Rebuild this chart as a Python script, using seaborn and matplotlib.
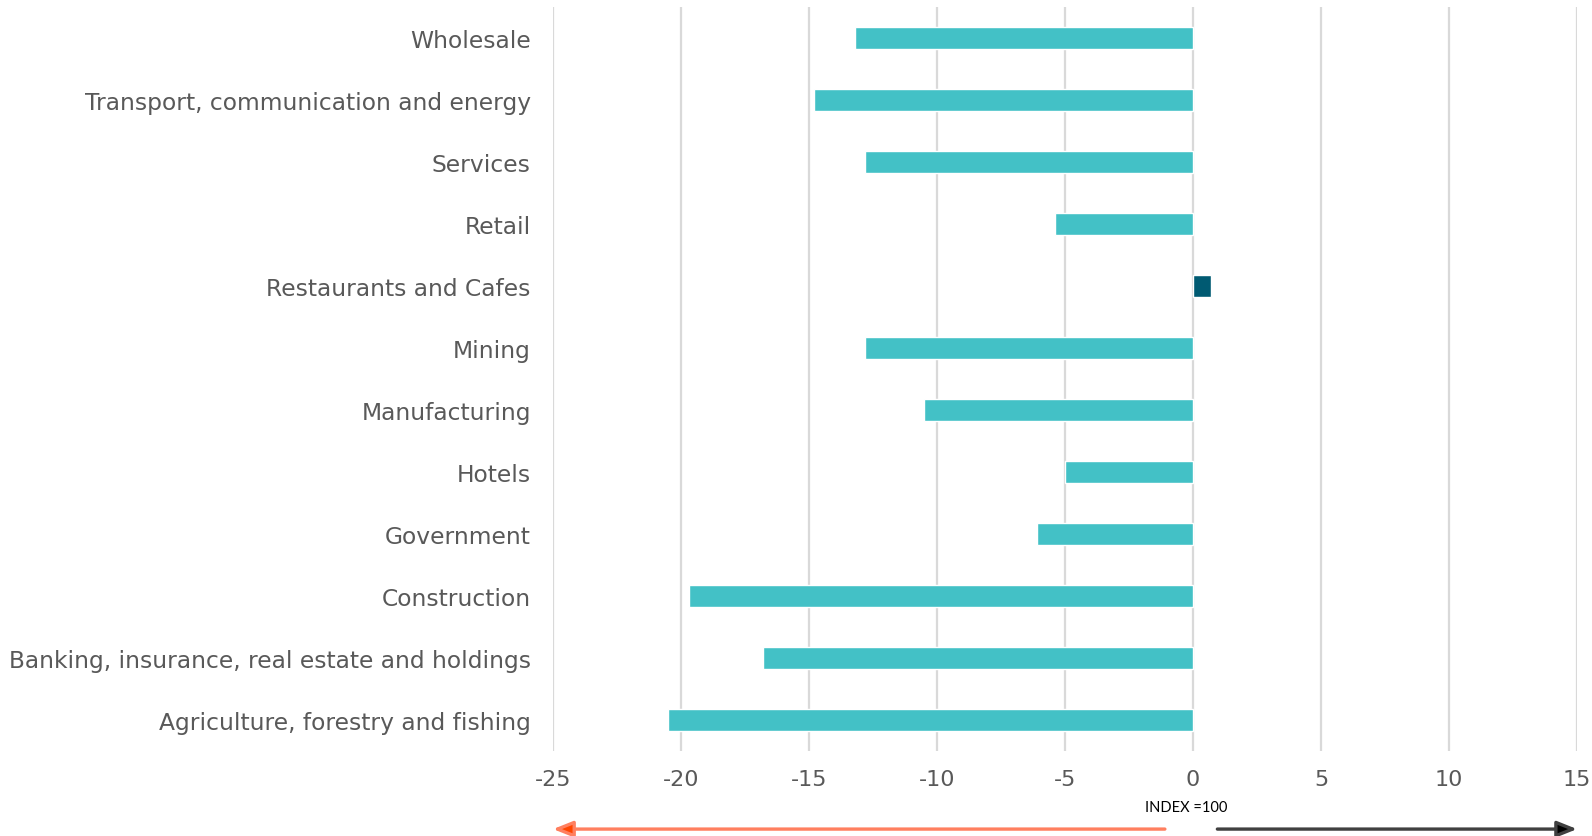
import matplotlib
matplotlib.use("Agg")
import matplotlib.pyplot as plt
import seaborn as sns
import pandas as pd
from matplotlib.transforms import blended_transform_factory

categories = ["Wholesale", "Transport, communication and energy", "Services", "Retail",
              "Restaurants and Cafes", "Mining", "Manufacturing", "Hotels", "Government",
              "Construction", "Banking, insurance, real estate and holdings",
              "Agriculture, forestry and fishing"]
values = [-13.2, -14.8, -12.8, -5.4, 0.7, -12.8, -10.5, -5.0, -6.1, -19.7, -16.8, -20.5]
xticks = [-25, -20, -15, -10, -5, 0, 5, 10, 15]

df = pd.DataFrame({"sector": categories, "value": values})
df["sign"] = ["pos" if v > 0 else "neg" for v in values]

sns.set_theme(style="white")
plt.rcParams["font.family"] = ["DejaVu Sans"]

fig = plt.figure(figsize=(15.92, 8.37), dpi=100)
ax = fig.add_axes([0.3474, 0.1016, 0.6432, 0.8889])

sns.barplot(data=df, x="value", y="sector", hue="sign", order=categories,
            palette={"neg": "#43C1C6", "pos": "#005A72"}, width=0.355,
            dodge=False, legend=False, ax=ax, saturation=1)

ax.set_xlim(-25, 15)
ax.set_ylim(11.5, -0.5)
ax.set_xticks(xticks)
ax.set_xticklabels([str(t) for t in xticks])
ax.grid(axis="x", color="#D9D9D9", linewidth=1.6)
ax.set_axisbelow(True)
for s in ax.spines.values():
    s.set_visible(False)
ax.set_xlabel("")
ax.set_ylabel("")
ax.tick_params(axis="y", length=0, pad=16, labelsize=16.8, labelcolor="#595959")
ax.tick_params(axis="x", length=0, pad=13, labelsize=16, labelcolor="#595959")

tr = blended_transform_factory(ax.transData, ax.transAxes)
ax.annotate("", xy=(-25, -0.105), xytext=(-1.1, -0.105), xycoords=tr, textcoords=tr,
            arrowprops=dict(arrowstyle="-|>,head_length=1.0,head_width=0.4",
                            color="#FF7F5F", lw=2.4, fc="#FF4500", ec="#FF7F5F",
                            shrinkA=0, shrinkB=0), annotation_clip=False)
ax.annotate("", xy=(15, -0.105), xytext=(0.95, -0.105), xycoords=tr, textcoords=tr,
            arrowprops=dict(arrowstyle="-|>,head_length=1.0,head_width=0.4",
                            color="#404040", lw=2.4, fc="black", ec="#404040",
                            shrinkA=0, shrinkB=0), annotation_clip=False)
ax.text(-0.25, -0.075, "INDEX =100", transform=tr, ha="center", va="center",
        fontsize=10.5, color="black", family="Lato")

fig.savefig("out.png", dpi=100)
